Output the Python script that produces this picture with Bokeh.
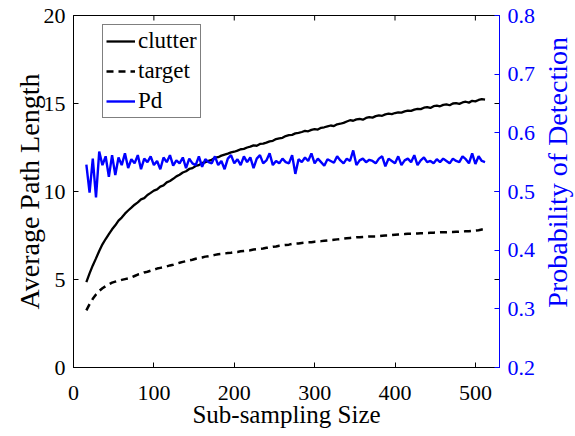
import math
from bokeh.plotting import figure
from bokeh.layouts import row
from bokeh.models import LinearAxis, Range1d, Legend, LegendItem, FixedTicker
from bokeh.core.properties import value
from bokeh.embed import file_html
from bokeh.resources import INLINE

# Sub-sampling sizes (x)
sizes = list(range(16, 513, 4))

# Average path length of clutter (left axis)
clutter = [
    4.85, 5.35, 5.80, 6.20, 6.62, 7.00, 7.30, 7.58, 7.85, 8.08,
    8.35, 8.52, 8.74, 8.92, 9.08, 9.25, 9.38, 9.55, 9.62, 9.80,
    9.92, 10.05, 10.12, 10.28, 10.35, 10.52, 10.60, 10.72, 10.86, 10.95,
    11.08, 11.15, 11.28, 11.33, 11.45, 11.50, 11.62, 11.66, 11.74, 11.80,
    11.92, 11.95, 12.04, 12.10, 12.15, 12.22, 12.26, 12.32, 12.40, 12.42,
    12.50, 12.55, 12.62, 12.60, 12.70, 12.72, 12.78, 12.85, 12.88, 12.98,
    13.02, 13.05, 13.15, 13.20, 13.22, 13.30, 13.33, 13.38, 13.44, 13.42,
    13.50, 13.55, 13.52, 13.62, 13.65, 13.70, 13.75, 13.72, 13.82, 13.85,
    13.90, 13.98, 14.05, 14.02, 14.10, 14.12, 14.08, 14.18, 14.22, 14.20,
    14.28, 14.32, 14.30, 14.38, 14.42, 14.40, 14.46, 14.50, 14.48, 14.55,
    14.60, 14.58, 14.65, 14.70, 14.68, 14.76, 14.80, 14.75, 14.85, 14.88,
    14.84, 14.92, 14.95, 14.90, 15.00, 15.02, 14.98, 15.06, 15.10, 15.05,
    15.15, 15.12, 15.20, 15.25, 15.22,
]

# Average path length of target (left axis)
target = [
    3.25, 3.60, 3.90, 4.15, 4.35, 4.50, 4.62, 4.72, 4.82, 4.88,
    4.92, 4.98, 5.02, 5.06, 5.12, 5.20, 5.28, 5.32, 5.40, 5.44,
    5.50, 5.56, 5.62, 5.66, 5.70, 5.74, 5.80, 5.84, 5.90, 5.95,
    6.00, 6.04, 6.08, 6.12, 6.18, 6.22, 6.25, 6.30, 6.32, 6.36,
    6.40, 6.44, 6.46, 6.48, 6.50, 6.52, 6.55, 6.56, 6.60, 6.62,
    6.64, 6.66, 6.70, 6.72, 6.74, 6.76, 6.80, 6.82, 6.86, 6.88,
    6.92, 6.94, 6.96, 6.98, 7.02, 7.04, 7.05, 7.08, 7.10, 7.12,
    7.12, 7.15, 7.17, 7.18, 7.20, 7.22, 7.24, 7.26, 7.28, 7.30,
    7.32, 7.34, 7.36, 7.38, 7.40, 7.40, 7.42, 7.43, 7.44, 7.45,
    7.45, 7.46, 7.48, 7.50, 7.50, 7.52, 7.54, 7.56, 7.57, 7.58,
    7.60, 7.60, 7.61, 7.62, 7.63, 7.63, 7.64, 7.65, 7.66, 7.67,
    7.68, 7.68, 7.69, 7.70, 7.70, 7.71, 7.72, 7.73, 7.74, 7.74,
    7.76, 7.78, 7.80, 7.84, 7.88,
]

# Probability of detection (right axis)
pd_vals = [
    0.546, 0.498, 0.556, 0.490, 0.568, 0.545, 0.560, 0.525, 0.562, 0.528,
    0.558, 0.545, 0.565, 0.540, 0.555, 0.548, 0.562, 0.538, 0.556, 0.550,
    0.560, 0.545, 0.552, 0.538, 0.558, 0.550, 0.562, 0.544, 0.553, 0.548,
    0.558, 0.540, 0.556, 0.548, 0.545, 0.560, 0.542, 0.555, 0.550, 0.548,
    0.560, 0.545, 0.552, 0.538, 0.556, 0.562, 0.548, 0.555, 0.545, 0.560,
    0.550, 0.558, 0.540, 0.556, 0.562, 0.548, 0.553, 0.565, 0.545, 0.552,
    0.548, 0.556, 0.550, 0.548, 0.562, 0.530, 0.555, 0.550, 0.558, 0.552,
    0.565, 0.548, 0.556, 0.550, 0.544, 0.555, 0.552, 0.549, 0.560, 0.553,
    0.548, 0.556, 0.552, 0.570, 0.545, 0.553, 0.556, 0.550, 0.554, 0.552,
    0.548, 0.556, 0.560, 0.543, 0.556, 0.552, 0.548, 0.560, 0.545, 0.553,
    0.556, 0.550, 0.562, 0.545, 0.553, 0.558, 0.550, 0.552, 0.548, 0.555,
    0.550, 0.556, 0.552, 0.548, 0.556, 0.552, 0.550, 0.560, 0.555, 0.548,
    0.565, 0.547, 0.560, 0.552, 0.550,
]

x_ticks = [0, 100, 200, 300, 400, 500]
left_ticks = [0, 5, 10, 15, 20]
right_ticks = [0.2, 0.3, 0.4, 0.5, 0.6, 0.7, 0.8]
right_title = "Probability of Detection"

FONT = "Liberation Serif"
BLUE = "#0000FF"
X_MAX, Y_MAX = 530, 20
FRAME_W, FRAME_H = 426, 352
TOP, TOTAL_H = 15, 436

p = figure(frame_width=FRAME_W, frame_height=FRAME_H, output_backend="svg",
           toolbar_location=None,
           x_range=Range1d(0, X_MAX), y_range=Range1d(0, Y_MAX),
           min_border_left=73, min_border_right=0, min_border_top=TOP,
           min_border_bottom=0)
p.extra_y_ranges = {"pd": Range1d(0.2, 0.8)}
p.grid.visible = False
p.outline_line_color = "black"
p.outline_line_width = 1

def style_axis(ax, color="black", label_size="28px"):
    ax.major_label_text_font = FONT
    ax.major_label_text_font_size = "22px"
    ax.major_label_text_color = color
    ax.axis_label_text_font = FONT
    ax.axis_label_text_font_size = label_size
    ax.axis_label_text_font_style = "normal"
    ax.axis_label_text_color = color
    ax.axis_line_color = color
    ax.major_tick_line_color = color
    ax.major_tick_in = 5
    ax.major_tick_out = 0
    ax.minor_tick_line_color = None

xa = p.xaxis[0]
style_axis(xa, label_size="25px")
xa.ticker = FixedTicker(ticks=x_ticks)
xa.axis_label = "Sub-sampling Size"
xa.major_label_standoff = 18
xa.axis_label_standoff = -2

ya = p.yaxis[0]
style_axis(ya)
ya.ticker = FixedTicker(ticks=left_ticks)
ya.axis_label = "Average Path Length"
ya.major_label_standoff = 8
ya.axis_label_standoff = -4

# right (blue) axis with ticks and tick labels
yr = LinearAxis(y_range_name="pd")
style_axis(yr, BLUE)
yr.ticker = FixedTicker(ticks=right_ticks)
yr.major_label_standoff = 8
p.add_layout(yr, "right")

# inward tick marks mirrored on the top and right edges (box on)
tick_len_y = 5 * Y_MAX / FRAME_H
tick_len_x = 5 * X_MAX / FRAME_W
p.segment(x0=x_ticks, y0=[Y_MAX] * len(x_ticks), x1=x_ticks,
          y1=[Y_MAX - tick_len_y] * len(x_ticks), line_color="black", line_width=1)
p.segment(x0=[X_MAX] * len(left_ticks), y0=left_ticks,
          x1=[X_MAX - tick_len_x] * len(left_ticks), y1=left_ticks,
          line_color="black", line_width=1)

r1 = p.line(sizes, clutter, line_color="black", line_width=2.3)
r2 = p.line(sizes, target, line_color="black", line_width=2.5, line_dash="7 5")
r3 = p.line(sizes, pd_vals, line_color=BLUE, line_width=2.4, y_range_name="pd")

legend = Legend(items=[LegendItem(label="clutter", renderers=[r1]),
                       LegendItem(label="target", renderers=[r2]),
                       LegendItem(label="Pd", renderers=[r3])],
                location=(29, 249))
legend.label_text_font = FONT
legend.label_text_font_size = "23px"
legend.label_text_color = "black"
legend.glyph_width = 29
legend.glyph_height = 22
legend.label_height = 22
legend.label_standoff = 3
legend.spacing = 4
legend.padding = 3
legend.margin = 0
legend.border_line_color = "black"
legend.border_line_width = 1
legend.background_fill_alpha = 1
p.add_layout(legend, "center")

# narrow strip to the right holding the right-axis title (reads bottom-to-top)
STRIP_W = 38
q = figure(width=STRIP_W, height=TOTAL_H, output_backend="svg",
           toolbar_location=None, min_border=0,
           x_range=Range1d(0, STRIP_W), y_range=Range1d(0, TOTAL_H))
q.axis.visible = False
q.grid.visible = False
q.outline_line_color = None
q.text(x=[STRIP_W / 2], y=[TOTAL_H - (TOP + FRAME_H / 2)], text=[right_title],
       angle=math.pi / 2, text_align="center", text_baseline="middle",
       text_font=value(FONT), text_font_size="28px", text_color=BLUE)

layout = row(p, q, spacing=0)
open("out.html", "w").write(file_html(layout, INLINE))
